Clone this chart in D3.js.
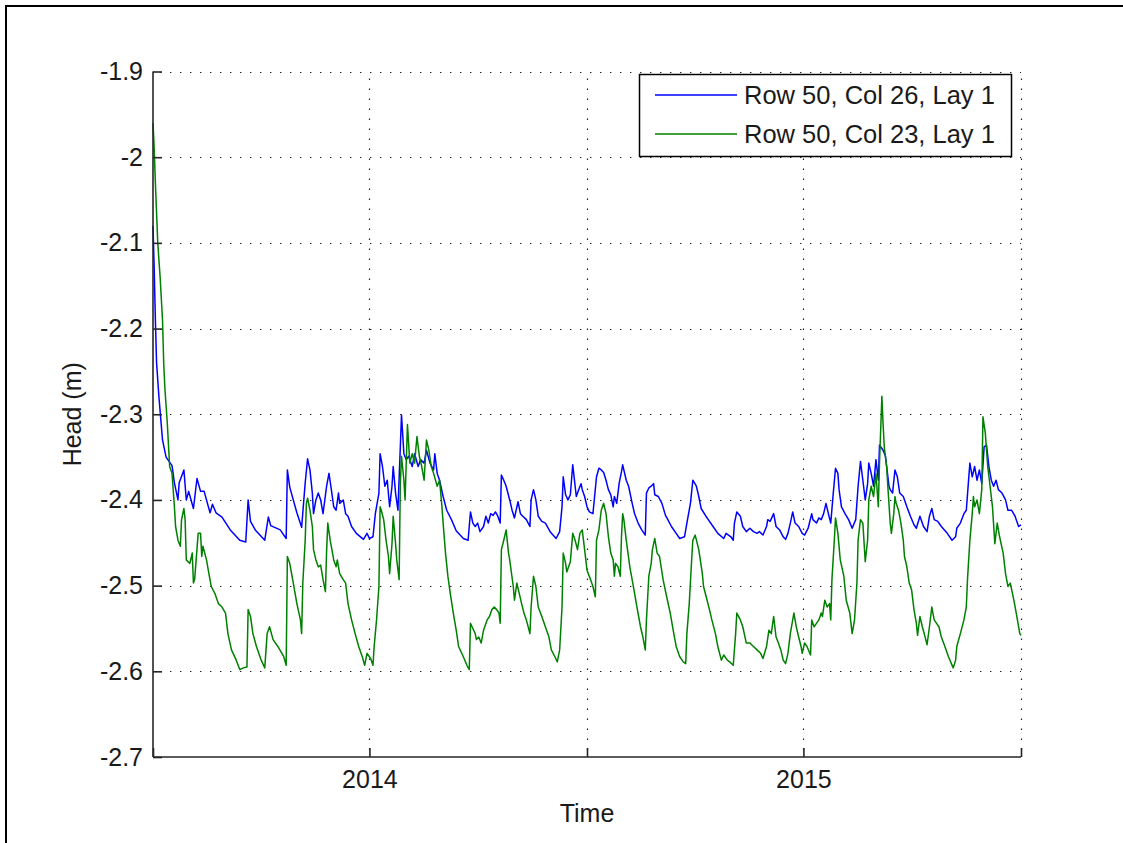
<!DOCTYPE html>
<html><head><meta charset="utf-8">
<script src="https://cdn.jsdelivr.net/npm/d3@7"></script>
<style>body{margin:0;background:#fff}svg{display:block}</style>
</head><body>
<svg id="chart" width="1123" height="843"></svg>
<script>
// ---------- data ----------
const startDate = "2013-07-03";
const endDate = "2015-07-03";
const xTickDates = ["2013-07-03", "2014-01-01", "2014-07-03", "2015-01-01", "2015-07-03"];
const xTickLabels = ["", "2014", "", "2015", ""];
const yTicks = [-2.7, -2.6, -2.5, -2.4, -2.3, -2.2, -2.1, -2.0, -1.9];
const seriesNames = ["Row 50, Col 26, Lay 1", "Row 50, Col 23, Lay 1"];
const xTitle = "Time";
const yTitle = "Head (m)";

// days since startDate, head (m) — Row 50, Col 26
const blueDays = [0,1,2,3,5,8,11,16,18,21,22,26,28,30,34,37,40,43,48,50,53,58,65,73,78,80,82,86,94,97,99,107,112,113,115,121,125,128,130,132,134,135,137,139,141,143,146,148,150,152,154,156,157,160,162,164,167,171,177,180,182,185,187,190,191,193,195,197,199,201,202,204,206,209,211,213,215,218,220,223,225,228,230,233,236,237,239,241,244,247,251,255,261,265,267,269,271,273,275,278,280,282,284,286,288,290,292,293,295,297,300,302,304,307,309,311,314,317,318,320,322,324,327,330,334,339,342,344,345,347,349,351,353,356,358,360,361,363,365,367,370,373,375,377,379,381,383,385,387,388,390,392,394,395,398,400,403,405,408,411,414,415,417,419,421,422,425,428,431,433,436,440,443,447,449,452,454,457,459,461,465,467,471,475,480,482,486,488,489,491,494,496,499,502,505,508,510,513,516,517,519,522,524,527,530,532,534,536,538,540,543,546,548,551,554,555,558,560,562,564,566,568,570,572,574,576,577,579,582,585,588,591,593,595,597,599,601,602,604,606,608,610,611,614,616,617,619,620,622,624,626,628,631,634,637,640,642,645,648,651,653,655,657,660,663,668,672,675,676,679,682,684,687,689,691,693,695,697,699,701,703,705,707,709,711,714,717,719,722,725,728,730];
const blueHead = [-2.08,-2.13,-2.19,-2.24,-2.28,-2.33,-2.35,-2.36,-2.38,-2.40,-2.38,-2.365,-2.40,-2.39,-2.41,-2.375,-2.39,-2.39,-2.415,-2.405,-2.415,-2.42,-2.435,-2.447,-2.449,-2.40,-2.425,-2.435,-2.447,-2.42,-2.43,-2.435,-2.445,-2.365,-2.385,-2.415,-2.432,-2.38,-2.352,-2.365,-2.392,-2.416,-2.400,-2.392,-2.400,-2.416,-2.384,-2.369,-2.388,-2.408,-2.412,-2.392,-2.404,-2.400,-2.416,-2.419,-2.431,-2.439,-2.446,-2.439,-2.445,-2.443,-2.416,-2.392,-2.346,-2.361,-2.384,-2.377,-2.408,-2.384,-2.361,-2.392,-2.412,-2.301,-2.346,-2.353,-2.349,-2.361,-2.346,-2.361,-2.353,-2.357,-2.342,-2.357,-2.365,-2.346,-2.369,-2.377,-2.396,-2.412,-2.423,-2.436,-2.445,-2.447,-2.414,-2.427,-2.431,-2.427,-2.437,-2.431,-2.419,-2.427,-2.416,-2.418,-2.414,-2.419,-2.427,-2.371,-2.377,-2.384,-2.400,-2.412,-2.421,-2.402,-2.416,-2.419,-2.423,-2.431,-2.400,-2.388,-2.400,-2.419,-2.425,-2.427,-2.437,-2.445,-2.437,-2.408,-2.373,-2.394,-2.400,-2.394,-2.359,-2.396,-2.388,-2.381,-2.388,-2.396,-2.408,-2.414,-2.416,-2.373,-2.363,-2.365,-2.368,-2.377,-2.388,-2.394,-2.408,-2.396,-2.404,-2.381,-2.367,-2.359,-2.377,-2.384,-2.404,-2.416,-2.427,-2.435,-2.441,-2.392,-2.386,-2.384,-2.381,-2.394,-2.396,-2.404,-2.418,-2.423,-2.431,-2.439,-2.445,-2.443,-2.427,-2.404,-2.377,-2.384,-2.396,-2.410,-2.419,-2.423,-2.431,-2.439,-2.445,-2.439,-2.443,-2.447,-2.427,-2.414,-2.419,-2.431,-2.437,-2.433,-2.437,-2.439,-2.437,-2.441,-2.431,-2.423,-2.425,-2.416,-2.431,-2.435,-2.443,-2.446,-2.439,-2.427,-2.414,-2.427,-2.431,-2.439,-2.441,-2.433,-2.416,-2.423,-2.427,-2.421,-2.423,-2.416,-2.404,-2.416,-2.427,-2.394,-2.363,-2.369,-2.388,-2.408,-2.416,-2.423,-2.433,-2.423,-2.384,-2.355,-2.377,-2.400,-2.381,-2.357,-2.369,-2.384,-2.353,-2.377,-2.336,-2.342,-2.349,-2.361,-2.384,-2.388,-2.392,-2.365,-2.373,-2.392,-2.396,-2.408,-2.419,-2.429,-2.433,-2.419,-2.431,-2.437,-2.419,-2.410,-2.423,-2.425,-2.431,-2.439,-2.447,-2.443,-2.433,-2.427,-2.416,-2.412,-2.357,-2.373,-2.361,-2.377,-2.365,-2.381,-2.338,-2.336,-2.361,-2.377,-2.384,-2.377,-2.388,-2.392,-2.400,-2.412,-2.412,-2.419,-2.431,-2.429];

// days since startDate, head (m) — Row 50, Col 23
const greenDays = [0,1,2,4,6,8,9,10,12,14,16,18,19,21,23,24,26,27,28,31,33,34,35,38,40,41,42,45,47,49,52,55,58,61,63,66,70,73,76,79,80,82,84,87,91,94,96,98,101,105,110,112,113,115,118,121,124,125,126,128,129,130,132,134,135,137,139,141,143,145,146,147,149,152,154,155,157,160,162,164,167,170,173,176,178,180,183,185,186,188,190,191,192,194,196,198,199,201,202,204,205,207,208,209,211,212,214,216,218,220,222,224,226,228,230,232,234,236,239,241,243,244,246,248,250,253,255,257,261,264,266,267,269,271,272,274,276,278,281,283,285,287,289,291,292,293,295,297,299,300,303,304,306,308,310,312,314,317,318,320,322,324,327,330,333,335,338,340,342,344,345,347,348,351,353,355,357,359,361,363,365,368,370,372,373,375,377,379,381,383,385,387,388,389,391,393,394,395,396,398,401,404,407,410,412,414,415,417,419,420,422,424,426,429,432,435,438,440,443,446,448,449,451,453,454,456,459,462,463,466,468,470,473,475,478,480,483,485,488,490,491,494,496,499,502,505,508,511,513,516,518,520,522,524,526,528,530,532,534,536,539,541,543,545,546,548,550,553,554,556,558,560,562,563,565,567,569,570,571,573,574,576,578,581,583,586,588,590,592,593,595,597,599,601,602,604,606,608,610,611,613,614,615,617,618,620,621,623,624,625,627,629,631,632,634,636,638,640,642,643,645,647,649,651,653,655,657,659,661,663,666,669,673,675,676,679,682,684,685,687,689,690,691,693,695,697,698,700,702,704,706,708,710,712,715,717,719,721,724,726,729,730];
const greenHead = [-1.96,-1.99,-2.03,-2.10,-2.14,-2.19,-2.24,-2.27,-2.31,-2.361,-2.369,-2.408,-2.431,-2.447,-2.454,-2.423,-2.410,-2.423,-2.470,-2.474,-2.462,-2.497,-2.493,-2.439,-2.439,-2.466,-2.454,-2.470,-2.486,-2.501,-2.509,-2.521,-2.525,-2.532,-2.556,-2.575,-2.587,-2.598,-2.596,-2.595,-2.528,-2.536,-2.556,-2.571,-2.587,-2.596,-2.556,-2.548,-2.563,-2.571,-2.583,-2.593,-2.466,-2.474,-2.497,-2.521,-2.540,-2.556,-2.497,-2.447,-2.404,-2.398,-2.412,-2.431,-2.458,-2.470,-2.478,-2.476,-2.493,-2.507,-2.460,-2.427,-2.447,-2.470,-2.478,-2.470,-2.486,-2.493,-2.497,-2.521,-2.540,-2.556,-2.571,-2.583,-2.593,-2.579,-2.585,-2.593,-2.571,-2.540,-2.501,-2.408,-2.412,-2.423,-2.447,-2.466,-2.486,-2.451,-2.419,-2.451,-2.470,-2.493,-2.381,-2.349,-2.377,-2.400,-2.312,-2.357,-2.346,-2.357,-2.326,-2.349,-2.361,-2.377,-2.330,-2.342,-2.361,-2.369,-2.384,-2.377,-2.408,-2.427,-2.462,-2.489,-2.509,-2.536,-2.552,-2.571,-2.583,-2.593,-2.598,-2.544,-2.550,-2.556,-2.563,-2.560,-2.567,-2.552,-2.540,-2.536,-2.528,-2.525,-2.528,-2.532,-2.544,-2.458,-2.447,-2.435,-2.462,-2.470,-2.501,-2.517,-2.497,-2.509,-2.521,-2.532,-2.540,-2.556,-2.525,-2.489,-2.501,-2.525,-2.536,-2.548,-2.560,-2.575,-2.583,-2.589,-2.575,-2.525,-2.462,-2.474,-2.484,-2.472,-2.439,-2.447,-2.458,-2.439,-2.435,-2.458,-2.482,-2.493,-2.501,-2.513,-2.447,-2.435,-2.412,-2.404,-2.416,-2.443,-2.462,-2.470,-2.489,-2.474,-2.478,-2.489,-2.443,-2.416,-2.423,-2.447,-2.478,-2.501,-2.525,-2.548,-2.560,-2.575,-2.540,-2.489,-2.474,-2.458,-2.445,-2.462,-2.466,-2.493,-2.513,-2.532,-2.556,-2.571,-2.583,-2.589,-2.591,-2.556,-2.521,-2.470,-2.447,-2.441,-2.458,-2.486,-2.501,-2.517,-2.528,-2.540,-2.556,-2.571,-2.587,-2.581,-2.587,-2.589,-2.593,-2.556,-2.532,-2.540,-2.548,-2.567,-2.567,-2.571,-2.575,-2.579,-2.585,-2.571,-2.552,-2.556,-2.536,-2.560,-2.567,-2.575,-2.587,-2.591,-2.579,-2.556,-2.532,-2.548,-2.560,-2.571,-2.579,-2.567,-2.571,-2.581,-2.540,-2.548,-2.544,-2.540,-2.532,-2.536,-2.517,-2.525,-2.521,-2.540,-2.493,-2.447,-2.421,-2.439,-2.470,-2.489,-2.517,-2.532,-2.556,-2.540,-2.497,-2.447,-2.423,-2.427,-2.472,-2.447,-2.400,-2.384,-2.396,-2.369,-2.408,-2.357,-2.279,-2.311,-2.338,-2.361,-2.384,-2.427,-2.439,-2.416,-2.396,-2.404,-2.412,-2.427,-2.447,-2.466,-2.478,-2.497,-2.505,-2.528,-2.544,-2.558,-2.536,-2.548,-2.558,-2.569,-2.548,-2.525,-2.540,-2.544,-2.548,-2.560,-2.571,-2.583,-2.596,-2.587,-2.571,-2.556,-2.540,-2.525,-2.493,-2.447,-2.416,-2.396,-2.408,-2.400,-2.416,-2.388,-2.303,-2.322,-2.361,-2.384,-2.408,-2.451,-2.427,-2.443,-2.462,-2.486,-2.501,-2.497,-2.517,-2.532,-2.556,-2.558];

const seriesColors = ["#0000ff", "#008000"];

// ---------- layout ----------
const W = 1123, H = 843;
const plot = {left: 153, top: 71.5, right: 1021, bottom: 757};
const FONT = "'Liberation Sans', Arial, Helvetica, sans-serif";
const FS = 25;

const parse = d3.utcParse("%Y-%m-%d");
const t0 = parse(startDate), t1 = parse(endDate);

const x = d3.scaleUtc().domain([t0, t1]).range([plot.left, plot.right]);
const y = d3.scaleLinear().domain([-2.7, -1.9]).range([plot.bottom, plot.top]);

const svg = d3.select("#chart");
svg.append("rect").attr("width", W).attr("height", H).attr("fill", "#fff");

// outer figure frame (top + left visible)
svg.append("path").attr("d", `M6,${H + 5} V6 H${W + 5}`)
  .attr("fill", "none").attr("stroke", "#000").attr("stroke-width", 2);

const g = svg.append("g");

// grid
const gridColor = "#222";
const xt = xTickDates.map(parse);
g.append("g").selectAll("line").data(yTicks.filter(v => v > -2.7)).join("line")
  .attr("x1", plot.left).attr("x2", plot.right)
  .attr("y1", d => Math.round(y(d)) + 0.5).attr("y2", d => Math.round(y(d)) + 0.5)
  .attr("stroke", gridColor).attr("stroke-width", 1.2)
  .attr("stroke-dasharray", "1.4,8.6").attr("stroke-dashoffset", -7);
g.append("g").selectAll("line").data(xt.slice(1)).join("line")
  .attr("x1", d => Math.round(x(d)) + 0.5).attr("x2", d => Math.round(x(d)) + 0.5)
  .attr("y1", plot.bottom).attr("y2", plot.top)
  .attr("stroke", gridColor).attr("stroke-width", 1.2)
  .attr("stroke-dasharray", "1.4,8.6").attr("stroke-dashoffset", -7);

// series
const line = d3.line().x(d => x(d[0])).y(d => y(d[1]));
function pts(days, vals) {
  return days.map((d, i) => [d3.utcDay.offset(t0, d), vals[i]]);
}
const series = [pts(blueDays, blueHead), pts(greenDays, greenHead)];
series.forEach((s, i) => {
  g.append("path").datum(s).attr("d", line)
    .attr("fill", "none").attr("stroke", seriesColors[i])
    .attr("stroke-width", 1.5).attr("stroke-linejoin", "round");
});

// axes (left and bottom only, ticks inward)
const axisColor = "#262626";
const tickLen = 9;
const yAxis = d3.axisLeft(y).tickValues(yTicks).tickSize(-tickLen).tickPadding(10)
  .tickFormat(v => String(+v.toFixed(1)));
const ya = g.append("g").attr("transform", `translate(${plot.left},0)`).call(yAxis);
const xAxis = d3.axisBottom(x).tickValues(xt).tickSize(-tickLen).tickPadding(13)
  .tickFormat((d, i) => xTickLabels[i]);
const xa = g.append("g").attr("transform", `translate(0,${plot.bottom})`).call(xAxis);
[ya, xa].forEach(a => {
  a.select(".domain").attr("stroke", axisColor).attr("stroke-width", 1.6);
  a.selectAll(".tick line").attr("stroke", axisColor).attr("stroke-width", 1.6);
  a.selectAll(".tick text").attr("fill", "#1a1a1a")
    .style("font-family", FONT).style("font-size", FS + "px");
});
ya.select(".domain").attr("d", `M0,${plot.bottom}V${plot.top}`);
xa.select(".domain").attr("d", `M${plot.left},0H${plot.right}`);

// axis titles
svg.append("text").attr("x", (plot.left + plot.right) / 2).attr("y", 822)
  .attr("text-anchor", "middle").attr("fill", "#1a1a1a")
  .style("font-family", FONT).style("font-size", FS + "px").text(xTitle);
svg.append("text").attr("transform", `translate(81,${(plot.top + plot.bottom) / 2}) rotate(-90)`)
  .attr("text-anchor", "middle").attr("fill", "#1a1a1a")
  .style("font-family", FONT).style("font-size", FS + "px").text(yTitle);

// legend
const lg = svg.append("g");
lg.append("rect").attr("x", 639.5).attr("y", 74.5).attr("width", 372).attr("height", 82)
  .attr("fill", "#fff").attr("stroke", "#000").attr("stroke-width", 1.5);
const legendY = [95, 134];
seriesNames.forEach((name, i) => {
  lg.append("line").attr("x1", 655).attr("x2", 737)
    .attr("y1", legendY[i]).attr("y2", legendY[i])
    .attr("stroke", seriesColors[i]).attr("stroke-width", 1.5);
  lg.append("text").attr("x", 744).attr("y", legendY[i]).attr("dy", "0.36em")
    .attr("fill", "#1a1a1a").style("font-family", FONT).style("font-size", "25.5px").text(name);
});
</script>
</body></html>
